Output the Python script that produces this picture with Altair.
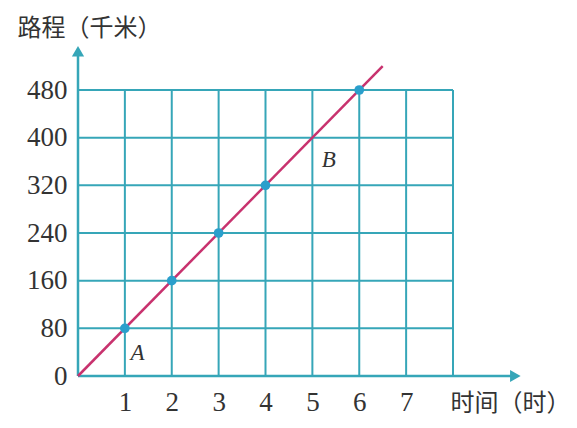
import altair as alt
import pandas as pd

# ---- data ----
x_ticks = [1, 2, 3, 4, 5, 6, 7]
y_ticks = [0, 80, 160, 240, 320, 400, 480]
grid_x = [1, 2, 3, 4, 5, 6, 7, 8]
grid_y = [80, 160, 240, 320, 400, 480]
x_max = 8
y_max = 480
hours = [1, 2, 3, 4, 6]
distance = [80, 160, 240, 320, 480]
line_x = [0, 6.5]
line_y = [0, 520]
point_names = ["A", "B"]
name_x = [1.27, 5.35]
name_y = [38, 362]
x_arrow_end = 9.45
y_arrow_end = 555
x_title = "时间（时）"
y_title = "路程（千米）"

GRID = "#36a6b8"
LINE = "#c8326e"
DOT = "#2a9fcc"
TEXT = "#333333"
SERIF = "Liberation Serif"
CJK = "Noto Sans CJK SC"

xs = alt.Scale(domain=[0, x_max], nice=False, zero=False)
ys = alt.Scale(domain=[0, y_max], nice=False, zero=False)

x_axis = alt.Axis(values=x_ticks, domain=False, ticks=False, grid=False,
                  labelFont=SERIF, labelFontSize=27, labelColor=TEXT,
                  labelBaseline="middle", labelPadding=26, labelOverlap=False,
                  title=x_title, titleFont=CJK, titleFontSize=24,
                  titleFontWeight="normal", titleColor=TEXT,
                  titleAlign="left", titleBaseline="middle",
                  titleX=372, titleY=27)
y_axis = alt.Axis(values=y_ticks, domain=False, ticks=False, grid=False,
                  labelFont=SERIF, labelFontSize=27, labelColor=TEXT,
                  labelPadding=11, labelOverlap=False, labelFlush=False,
                  title=y_title, titleFont=CJK, titleFontSize=24,
                  titleFontWeight="normal", titleColor=TEXT, titleAngle=0,
                  titleAlign="left", titleBaseline="middle",
                  titleX=-61, titleY=-62)

def X(axis=True):
    return alt.X("x:Q", scale=xs, axis=x_axis if axis else None)

def Y(axis=True):
    return alt.Y("y:Q", scale=ys, axis=y_axis if axis else None)

vgrid = pd.DataFrame({"x": grid_x, "y": [0] * len(grid_x), "y2": [y_max] * len(grid_x)})
hgrid = pd.DataFrame({"y": grid_y, "x": [0] * len(grid_y), "x2": [x_max] * len(grid_y)})
xaxis_df = pd.DataFrame({"x": [0], "x2": [x_arrow_end - 0.15], "y": [0]})
yaxis_df = pd.DataFrame({"x": [0], "y": [0], "y2": [y_arrow_end - 12]})
line_df = pd.DataFrame({"x": line_x, "y": line_y})
pts_df = pd.DataFrame({"x": hours, "y": distance})
names_df = pd.DataFrame({"x": name_x, "y": name_y, "t": point_names})
xarrow_df = pd.DataFrame({"x": [x_arrow_end - 0.12], "y": [0]})
yarrow_df = pd.DataFrame({"x": [0], "y": [y_arrow_end - 10]})

v = alt.Chart(vgrid).mark_rule(color=GRID, strokeWidth=2).encode(
    x=X(), y=Y(), y2="y2:Q")
h = alt.Chart(hgrid).mark_rule(color=GRID, strokeWidth=2).encode(
    y=Y(), x=X(), x2="x2:Q")
xa = alt.Chart(xaxis_df).mark_rule(color=GRID, strokeWidth=2.5).encode(
    x=X(), x2="x2:Q", y=Y())
ya = alt.Chart(yaxis_df).mark_rule(color=GRID, strokeWidth=2.5).encode(
    y=Y(), y2="y2:Q", x=X())
xarr = alt.Chart(xarrow_df).mark_point(shape="triangle-right", filled=True,
                                        color=GRID, size=150, opacity=1).encode(x=X(), y=Y())
yarr = alt.Chart(yarrow_df).mark_point(shape="triangle-up", filled=True,
                                        color=GRID, size=150, opacity=1).encode(x=X(), y=Y())
ln = alt.Chart(line_df).mark_line(color=LINE, strokeWidth=2.5).encode(x=X(), y=Y())
pts = alt.Chart(pts_df).mark_circle(color=DOT, size=95, opacity=1).encode(x=X(), y=Y())
names = alt.Chart(names_df).mark_text(font=SERIF, fontStyle="italic", fontSize=23,
                                      color=TEXT).encode(x=X(), y=Y(), text="t:N")

chart = alt.layer(v, h, xa, ya, xarr, yarr, ln, pts, names).properties(
    width=375, height=286,
    autosize=alt.AutoSizeParams(type="none"),
    padding={"left": 70, "top": 82, "right": 116, "bottom": 44},
    background="white",
).configure_view(stroke=None)

chart.save("out.html", embed_options={"renderer": "svg", "actions": False})
